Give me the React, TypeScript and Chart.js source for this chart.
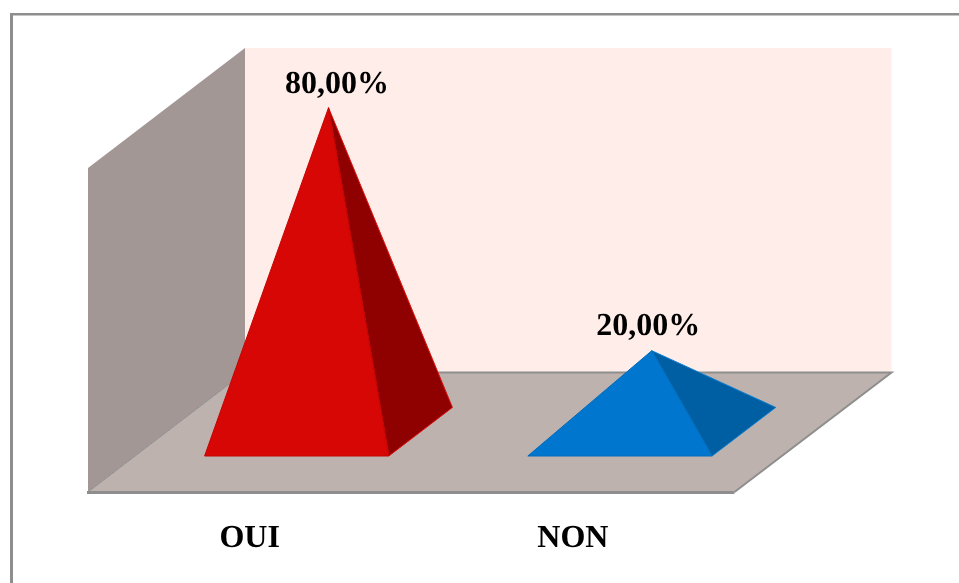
import React, { useEffect, useRef } from "react";
import { Chart, registerables } from "chart.js";

Chart.register(...registerables);

const categories = ["OUI", "NON"];
const percentages = [80, 20];
const frontColors = ["#D60704", "#0076CE"];
const sideColors = ["#8F0000", "#005FA3"];
const sideEdgeColors = ["#E0100C", "#0A7DD0"];
const frontEdgeColors = ["#C40402", "#006CBC"];
const labelShift = [8.5, -3.5];
const labelRise = [14.5, 16];

const SERIF = '"Liberation Serif", "Times New Roman", serif';

// Oblique projection: how far the back of the floor is displaced from its front edge.
const DEPTH_X = 157;
const DEPTH_Y = 120;
// Share of the floor depth where each pyramid's base begins and ends.
const BASE_NEAR = 0.3;
const BASE_FAR = 0.705;

const formatPercent = (v: number) => v.toFixed(2).replace(".", ",") + "%";

const polygon = (ctx: CanvasRenderingContext2D, pts: number[][], fill: string, stroke?: string, lw = 1) => {
  ctx.beginPath();
  pts.forEach(([x, y], i) => (i ? ctx.lineTo(x, y) : ctx.moveTo(x, y)));
  ctx.closePath();
  ctx.fillStyle = fill;
  ctx.fill();
  if (stroke) {
    ctx.strokeStyle = stroke;
    ctx.lineWidth = lw;
    ctx.stroke();
  }
};

const room = {
  id: "room",
  beforeDraw(chart: any) {
    // Unhinted glyph outlines for the axis and value labels.
    chart.ctx.textRendering = "geometricPrecision";
  },
  beforeDatasetsDraw(chart: any) {
    const { ctx, chartArea: a } = chart;
    ctx.save();
    // Frame around the whole chart, open on the far sides.
    ctx.fillStyle = "#8E8E8E";
    ctx.fillRect(10, 13, 949, 2.5);
    ctx.fillRect(10, 13, 3, 570);

    const dx = DEPTH_X;
    const dy = DEPTH_Y;
    polygon(ctx, [[a.left + dx, a.top - dy], [a.right + dx, a.top - dy], [a.right + dx, a.bottom - dy], [a.left + dx, a.bottom - dy]], "#FFEDE9");
    polygon(ctx, [[a.left, a.top], [a.left + dx, a.top - dy], [a.left + dx, a.bottom - dy], [a.left, a.bottom]], "#A29795");
    polygon(ctx, [[a.left, a.bottom], [a.right, a.bottom], [a.right + dx, a.bottom - dy], [a.left + dx, a.bottom - dy]], "#BDB2AE");

    ctx.strokeStyle = "#8E8E8E";
    ctx.lineWidth = 1;
    ctx.beginPath();
    ctx.moveTo(a.left, a.bottom);
    ctx.lineTo(a.left + dx, a.bottom - dy);
    ctx.stroke();
    ctx.lineWidth = 2;
    ctx.beginPath();
    ctx.moveTo(a.left + dx, a.bottom - dy + 0.5);
    ctx.lineTo(a.right + dx, a.bottom - dy + 0.5);
    ctx.lineTo(a.right, a.bottom);
    ctx.stroke();
    ctx.lineWidth = 3;
    ctx.beginPath();
    ctx.moveTo(a.left - 1, a.bottom + 0.5);
    ctx.lineTo(a.right, a.bottom + 0.5);
    ctx.stroke();
    ctx.restore();
  },
};

const pyramids = {
  id: "pyramids",
  afterDatasetsDraw(chart: any) {
    const { ctx } = chart;
    const bars = chart.getDatasetMeta(0).data;
    ctx.save();
    bars.forEach((bar: any, i: number) => {
      const half = bar.width / 2;
      const bottom = bar.base;
      const nearX = DEPTH_X * BASE_NEAR;
      const nearY = DEPTH_Y * BASE_NEAR;
      const farX = DEPTH_X * BASE_FAR;
      const farY = DEPTH_Y * BASE_FAR;
      const midX = (nearX + farX) / 2;
      const midY = (nearY + farY) / 2;
      const left: number[] = [bar.x - half + nearX, bottom - nearY];
      const right: number[] = [bar.x + half + nearX, bottom - nearY];
      const back: number[] = [bar.x + half + farX, bottom - farY];
      const apex: number[] = [bar.x + midX, bar.y - midY];
      polygon(ctx, [apex, right, back], sideColors[i], sideEdgeColors[i], 1);
      polygon(ctx, [apex, left, right], frontColors[i], frontEdgeColors[i], 1);

      ctx.fillStyle = "#000";
      ctx.font = `bold 32px ${SERIF}`;
      ctx.textAlign = "center";
      ctx.textBaseline = "alphabetic";
      ctx.fillText(formatPercent(percentages[i]), apex[0] + labelShift[i], apex[1] - labelRise[i]);
    });
    ctx.restore();
  },
};

export default function App() {
  const ref = useRef<HTMLCanvasElement>(null);

  useEffect(() => {
    const chart = new Chart(ref.current!, {
      type: "bar",
      data: {
        labels: categories,
        datasets: [
          {
            data: percentages,
            backgroundColor: "rgba(0,0,0,0)",
            borderWidth: 0,
            barPercentage: 0.57,
            categoryPercentage: 1,
          },
        ],
      },
      options: {
        responsive: false,
        animation: false,
        layout: { padding: { left: 88, right: 224.5, top: 168, bottom: 0 } },
        plugins: { legend: { display: false }, tooltip: { enabled: false }, title: { display: false } },
        scales: {
          x: {
            offset: true,
            grid: { display: false },
            border: { display: false },
            ticks: {
              color: "#000",
              padding: 20,
              maxRotation: 0,
              font: { family: SERIF, size: 32, weight: "bold" },
            },
            afterFit: (scale: any) => {
              scale.height = 91;
            },
          },
          y: { display: false, min: 0, max: 80 },
        },
      },
      plugins: [room, pyramids],
    } as any);
    return () => chart.destroy();
  }, []);

  return (
    <div style={{ position: "fixed", left: 0, top: 0, width: 959, height: 583, background: "#fff" }}>
      <canvas ref={ref} width={959} height={583} style={{ display: "block" }} />
    </div>
  );
}
